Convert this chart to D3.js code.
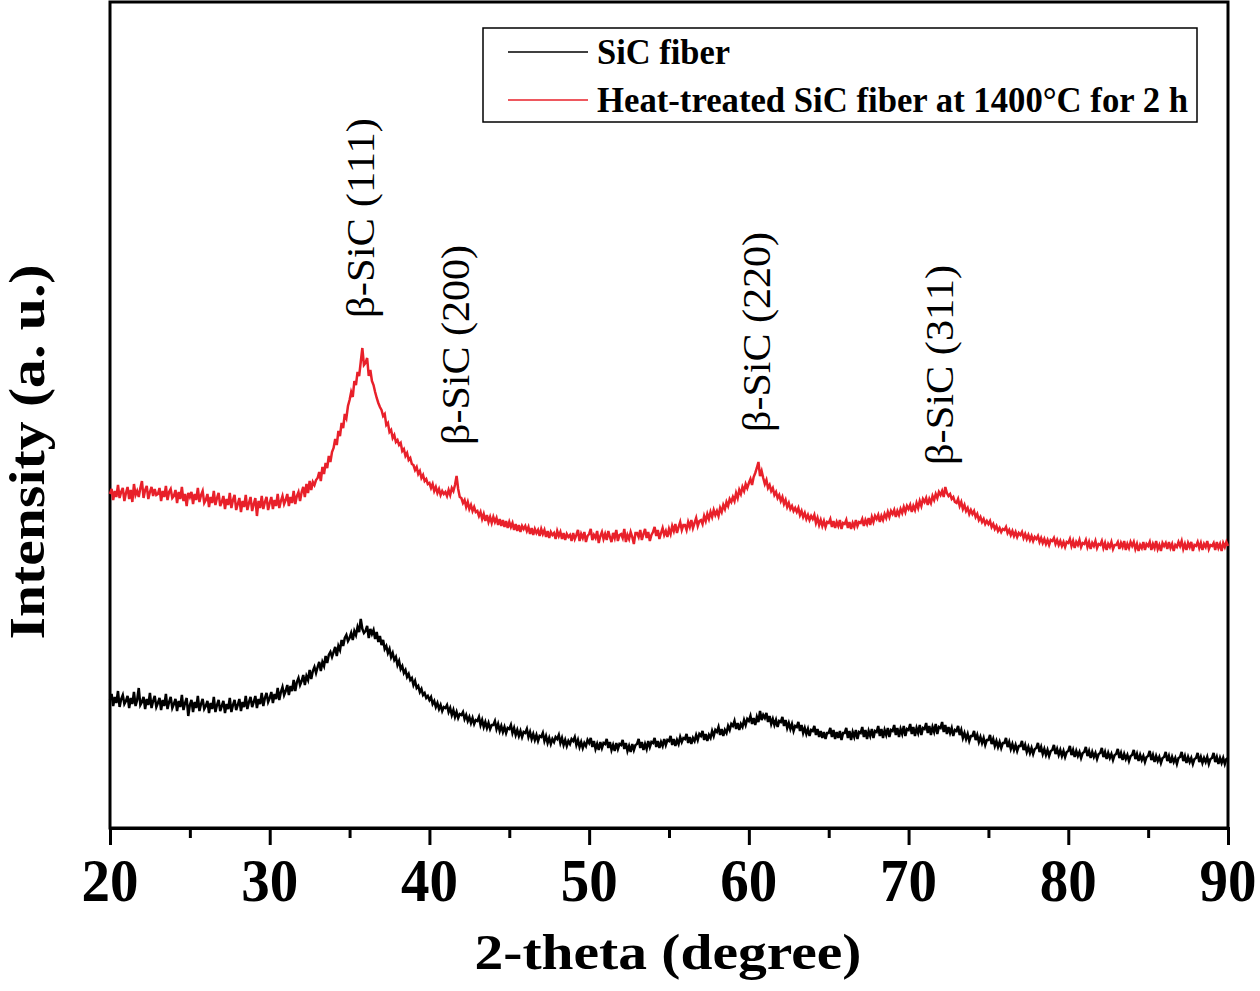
<!DOCTYPE html>
<html><head><meta charset="utf-8">
<script src="https://cdn.jsdelivr.net/npm/d3@7"></script>
<style>body{margin:0;background:#fff}svg{display:block}</style>
</head><body><svg id="c" width="1260" height="991"></svg>
<script>
// 2-theta grid of the scan
const thetaStart = 20, thetaStep = 0.1;
const xTicks = [20, 30, 40, 50, 60, 70, 80, 90];
const xMinorTicks = [25, 35, 45, 55, 65, 75, 85];
const seriesNames = ["SiC fiber", "Heat-treated SiC fiber at 1400°C for 2 h"];
const seriesColors = ["#000000", "#e8202a"];
const peakLabels = ["β-SiC (111)", "β-SiC (200)", "β-SiC (220)", "β-SiC (311)"];
const peakPositions = [35.8, 41.7, 60.6, 72.0];
const peakLabelLevels = [510, 383, 396, 363];

// Intensity (a.u.), SiC fiber, one row per degree
const sicFiber = [
128,134,122,131,125,137,121,129,133,124,
127,132,120,130,124,136,122,128,140,123,
126,131,119,129,123,135,120,127,132,121,
125,130,118,128,122,134,119,126,131,120,
124,129,117,127,121,133,118,125,130,112,
123,128,116,126,120,132,117,124,129,119,
122,127,115,125,119,131,116,123,128,117,
122,127,115,124,119,130,116,123,128,118,
123,129,117,126,121,132,119,126,131,121,
126,132,120,129,124,135,122,130,135,126,
130,136,125,134,129,140,128,136,141,133,
137,143,133,142,137,148,137,146,150,143,
147,153,143,152,148,158,149,157,161,155,
161,166,157,166,162,172,165,173,176,171,
176,181,172,182,178,188,182,190,193,187,
190,195,188,197,193,201,196,209,199,195,
197,202,190,199,194,198,189,196,186,192,
183,188,179,182,175,179,171,175,168,171,
163,167,159,162,155,158,151,154,148,150,
143,147,140,142,136,139,133,135,130,132,
128,131,124,127,121,125,119,123,117,121,
120,123,116,120,113,118,111,116,110,114,
113,116,109,113,107,111,105,110,104,108,
107,111,103,108,101,106,100,105,99,103,
103,107,99,104,97,102,96,101,95,100,
99,103,95,100,93,98,92,97,91,96,
95,99,91,96,89,94,88,93,87,92,
91,95,87,92,85,90,84,89,86,91,
89,93,85,90,83,88,82,87,84,89,
87,91,83,88,81,86,80,85,82,88,
85,90,81,87,79,84,78,86,80,85,
84,89,80,86,78,83,77,85,79,84,
83,88,79,85,77,82,76,84,78,83,
84,89,80,86,78,84,79,87,81,86,
85,90,81,87,80,86,82,89,83,88,
87,92,83,89,82,88,84,91,86,90,
89,94,85,91,84,90,87,93,88,94,
92,97,88,94,87,93,90,97,92,98,
96,101,93,99,92,98,95,102,98,104,
102,107,99,105,98,104,101,108,103,109,
107,112,104,110,103,111,106,117,108,113,
110,115,106,112,104,109,103,108,101,107,
106,111,102,108,100,105,99,104,97,102,
101,106,97,103,95,100,94,99,92,98,
97,102,93,99,91,97,90,96,89,95,
95,100,91,98,89,96,90,97,88,95,
95,100,90,97,88,96,91,98,89,96,
95,101,91,98,89,97,92,99,90,97,
96,102,92,99,90,98,93,100,91,98,
97,103,93,100,91,99,94,102,92,99,
98,104,94,101,92,100,95,103,93,100,
99,105,95,102,93,101,96,104,94,101,
100,106,96,103,94,101,95,100,92,98,
97,102,93,98,90,95,89,94,87,92,
92,97,88,93,86,91,85,90,83,88,
88,93,84,89,82,87,81,86,80,85,
85,90,81,86,79,84,78,83,77,82,
82,87,78,83,76,81,75,80,74,79,
80,85,76,81,74,79,73,78,72,77,
78,83,74,79,73,78,72,77,71,76,
77,82,73,78,71,77,72,76,70,75,
76,81,72,77,70,76,71,75,69,74,
75,80,71,76,69,75,70,74,68,73,
74,79,70,75,68,74,69,73,67,72,
73,78,69,74,67,73,68,72,66,71,
72,77,68,73,66,72,67,71,65,70,
71,76,67,72,65,71,66,70,64,70,
71,76,67,72,65,71,66,70,64,69,
70,75,66,71,65,70,66,71,64,69,
70,75,66,71,64,70,65,70,64,69,
70];

// Intensity (a.u.), heat-treated SiC fiber, one row per degree
const sicHeat = [
334,339,328,337,331,343,330,336,340,327,
335,341,329,338,326,344,333,337,331,340,
347,330,338,342,329,336,341,332,339,333,
334,340,327,337,331,342,328,336,339,330,
332,338,325,336,329,341,327,334,322,335,
331,336,324,334,328,340,326,333,337,325,
328,334,321,331,325,337,323,330,335,322,
326,332,319,329,323,335,320,328,333,318,
324,330,316,327,321,333,318,325,331,317,
324,330,312,327,320,332,319,326,331,318,
325,331,319,328,322,334,320,327,332,324,
328,334,322,331,325,337,324,332,336,327,
336,341,331,344,335,347,338,346,343,348,
350,356,347,361,354,365,360,372,366,376,
380,389,383,397,392,405,400,414,410,422,
428,436,431,447,443,456,452,466,480,463,
465,470,452,458,447,443,436,430,425,421,
418,412,414,403,405,396,398,390,393,386,
388,383,385,377,379,372,375,368,370,364,
363,358,361,354,357,350,353,347,349,344,
345,340,344,337,341,335,339,333,337,334,
336,332,338,333,340,337,343,352,339,331,
330,325,328,321,326,319,323,317,321,316,
317,312,316,309,314,307,313,306,311,305,
311,306,310,303,309,302,308,301,307,300,
306,301,305,298,304,297,303,296,302,299,
302,297,301,294,300,293,299,295,298,292,
299,294,298,291,297,290,296,293,295,289,
297,292,296,289,295,288,294,291,293,287,
295,289,293,298,287,294,290,296,286,292,
294,299,288,293,290,297,285,292,296,289,
294,288,297,291,286,295,290,298,287,293,
294,290,299,286,293,289,296,291,284,295,
295,291,298,288,294,299,290,296,287,293,
296,301,292,298,289,295,300,293,297,291,
299,294,302,297,304,295,301,306,298,303,
303,298,306,301,308,300,305,310,302,307,
308,304,312,307,314,309,316,311,318,313,
317,312,320,316,323,319,326,322,329,326,
331,327,335,330,338,334,341,337,344,340,
345,349,343,351,355,360,366,352,357,350,
344,348,340,343,337,340,333,336,330,333,
327,331,324,328,321,325,319,322,317,320,
316,320,313,317,311,315,309,313,308,312,
309,313,305,310,303,308,302,307,301,306,
305,309,301,307,300,306,302,308,299,305,
304,308,300,306,299,305,301,308,302,306,
305,309,302,308,304,310,303,311,306,312,
309,313,306,312,308,314,310,316,311,317,
314,318,311,317,313,319,315,321,316,322,
319,323,316,322,318,325,320,327,322,329,
326,330,323,329,325,332,328,334,330,336,
333,337,331,341,335,332,334,329,331,326,
325,329,322,326,319,323,317,320,314,318,
314,317,311,314,308,311,306,309,304,307,
304,307,301,304,299,302,297,300,296,299,
298,301,295,298,293,297,292,296,291,295,
293,296,290,294,289,293,288,292,287,291,
289,292,286,290,285,289,284,288,283,288,
287,290,284,288,283,287,282,286,281,286,
285,289,282,287,280,286,283,288,281,285,
284,288,281,286,279,285,282,287,280,284,
283,287,280,285,278,284,281,286,279,283,
283,286,279,285,281,287,278,284,280,286,
282,286,279,284,277,283,280,286,278,284,
282,286,278,284,280,287,279,283,277,285,
282,285,279,286,280,284,277,283,281,286,
282,287,279,284,278,285,281,286,277,283,
282,286,280,285,278,284,281,287,279,283,
282,285,278,286,280,284,277,285,281,286,
282];

const FONT = "'Liberation Serif', 'Times New Roman', Times, serif";
const svg = d3.select("#c");
const L = 110, R = 1228, T = 2, B = 828;
const x = d3.scaleLinear().domain([20, 90]).range([L, R]);
const y = d3.scaleLinear().domain([0, 826]).range([B, T]);

// frame
svg.append("rect").attr("x", L).attr("y", T).attr("width", R - L).attr("height", B - T)
  .attr("fill", "none").attr("stroke", "#000").attr("stroke-width", 3);

// series
const line = d3.line().x((d, i) => x(thetaStart + i * thetaStep)).y(d => y(d));
[sicFiber, sicHeat].forEach((s, k) => {
  svg.append("path").datum(s).attr("d", line).attr("fill", "none")
    .attr("stroke", seriesColors[k]).attr("stroke-width", 2.5).attr("stroke-linejoin", "miter");
});

// x axis
const ax = svg.append("g").attr("transform", `translate(0,${B})`)
  .call(d3.axisBottom(x).tickValues(xTicks).tickSize(17).tickFormat(""));
ax.select(".domain").attr("stroke-width", 3);
ax.selectAll(".tick line").attr("stroke-width", 3);
const axm = svg.append("g").attr("transform", `translate(0,${B})`)
  .call(d3.axisBottom(x).tickValues(xMinorTicks).tickSize(10).tickFormat(""));
axm.select(".domain").remove();
axm.selectAll(".tick line").attr("stroke-width", 3);

svg.append("g").selectAll("text").data(xTicks).join("text")
  .attr("x", d => x(d)).attr("y", 901).attr("text-anchor", "middle")
  .attr("font-family", FONT).attr("font-weight", "bold")
  .attr("font-size", 62).attr("textLength", 57).attr("lengthAdjust", "spacingAndGlyphs")
  .text(d => d);

// axis titles
svg.append("text").attr("x", 668).attr("y", 969).attr("text-anchor", "middle")
  .attr("font-family", FONT).attr("font-weight", "bold").attr("font-size", 50)
  .attr("textLength", 387).attr("lengthAdjust", "spacingAndGlyphs").text("2-theta (degree)");
svg.append("text").attr("transform", "translate(44,452) rotate(-90)").attr("text-anchor", "middle")
  .attr("font-family", FONT).attr("font-weight", "bold").attr("font-size", 50)
  .attr("textLength", 375).attr("lengthAdjust", "spacingAndGlyphs").text("Intensity (a. u.)");

// peak labels
svg.append("g").selectAll("text").data(peakLabels).join("text")
  .attr("transform", (d, i) => `translate(${x(peakPositions[i]) + 12},${y(peakLabelLevels[i])}) rotate(-90)`)
  .attr("font-family", FONT).attr("font-size", 39)
  .attr("textLength", 200).attr("lengthAdjust", "spacingAndGlyphs").text(d => d);

// legend
const lg = svg.append("g");
lg.append("rect").attr("x", 483).attr("y", 28).attr("width", 714).attr("height", 94)
  .attr("fill", "#fff").attr("stroke", "#000").attr("stroke-width", 1.5);
const legW = [133, 591];
seriesNames.forEach((n, i) => {
  const yy = 52 + i * 48;
  lg.append("line").attr("x1", 508).attr("x2", 588).attr("y1", yy).attr("y2", yy)
    .attr("stroke", seriesColors[i]).attr("stroke-width", 1.5);
  lg.append("text").attr("x", 597).attr("y", yy + 12)
    .attr("font-family", FONT).attr("font-weight", "bold").attr("font-size", 36)
    .attr("textLength", legW[i]).attr("lengthAdjust", "spacingAndGlyphs").text(n);
});
</script></body></html>
